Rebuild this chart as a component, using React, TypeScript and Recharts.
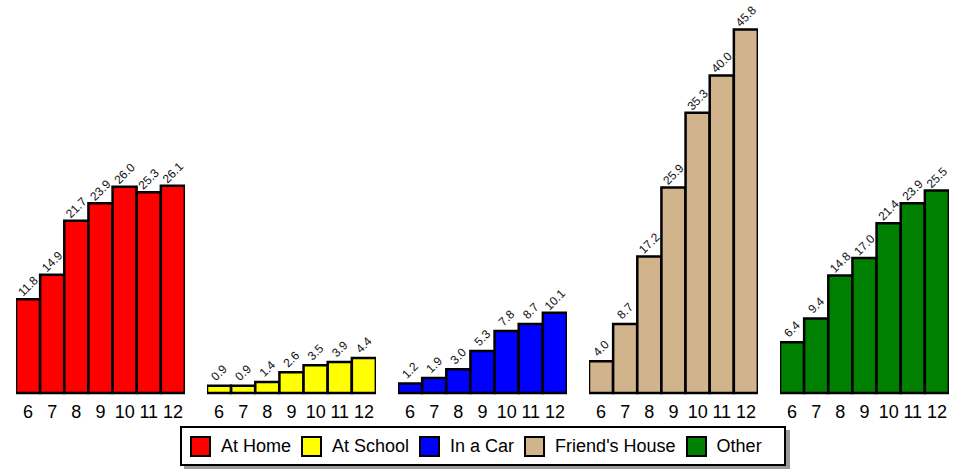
import { BarChart, Bar, XAxis, YAxis, LabelList } from "recharts";

const grades = ["6", "7", "8", "9", "10", "11", "12"];

const atHome = [11.8, 14.9, 21.7, 23.9, 26.0, 25.3, 26.1];
const atSchool = [0.9, 0.9, 1.4, 2.6, 3.5, 3.9, 4.4];
const inACar = [1.2, 1.9, 3.0, 5.3, 7.8, 8.7, 10.1];
const friendsHouse = [4.0, 8.7, 17.2, 25.9, 35.3, 40.0, 45.8];
const other = [6.4, 9.4, 14.8, 17.0, 21.4, 23.9, 25.5];

const locations = ["At Home", "At School", "In a Car", "Friend's House", "Other"];
const colors = ["#ff0000", "#ffff00", "#0000ff", "#d2b48c", "#008000"];
const seriesValues = [atHome, atSchool, inACar, friendsHouse, other];

const FONT = "'Liberation Sans', Arial, sans-serif";

const ValueLabel = (props: any) => {
  const { x, y, width, value } = props;
  const cx = x + width / 2;
  const cy = y - 13;
  return (
    <text
      x={cx}
      y={cy}
      transform={`rotate(-45, ${cx}, ${cy})`}
      textAnchor="middle"
      dominantBaseline="central"
      fontSize={12}
      fontFamily={FONT}
      fill="#111"
    >
      {Number(value).toFixed(1)}
    </text>
  );
};

function Group({ values, color, left }: { values: number[]; color: string; left: number }) {
  const data = grades.map((g, i) => ({ grade: g, value: values[i] }));
  return (
    <div style={{ position: "absolute", left, top: 0 }}>
      <BarChart
        width={169}
        height={423}
        data={data}
        margin={{ top: 12, right: 0, left: 0, bottom: 0 }}
        barCategoryGap={0}
        style={{ overflow: "visible" }}
      >
        <XAxis
          dataKey="grade"
          height={30}
          tickLine={false}
          axisLine={false}
          interval={0}
          tick={{ fontSize: 18, fill: "#000", fontFamily: FONT }}
          tickMargin={6}
        />
        <YAxis hide domain={[0, 48]} />
        <Bar dataKey="value" fill={color} stroke="#000" strokeWidth={2.5} isAnimationActive={false}>
          <LabelList dataKey="value" content={ValueLabel} />
        </Bar>
      </BarChart>
    </div>
  );
}

export default function App() {
  return (
    <div
      style={{
        position: "absolute",
        left: 0,
        top: 0,
        width: 965,
        height: 469,
        background: "#fff",
        overflow: "hidden",
      }}
    >
      {seriesValues.map((vals, i) => (
        <Group key={locations[i]} values={vals} color={colors[i]} left={16 + i * 191} />
      ))}
      <div
        style={{
          position: "absolute",
          left: 180,
          top: 426,
          width: 594,
          height: 36,
          border: "2.5px solid #000",
          background: "#fff",
          boxShadow: "4px 4px 0 #999",
          display: "flex",
          alignItems: "center",
          paddingLeft: 8,
          boxSizing: "content-box",
          fontFamily: FONT,
          fontSize: 18,
        }}
      >
        {locations.map((name, i) => (
          <div key={name} style={{ display: "flex", alignItems: "center", marginRight: 10 }}>
            <span
              style={{
                display: "inline-block",
                width: 17,
                height: 17,
                background: colors[i],
                border: "2px solid #000",
                marginRight: 10,
              }}
            />
            <span>{name}</span>
          </div>
        ))}
      </div>
    </div>
  );
}
